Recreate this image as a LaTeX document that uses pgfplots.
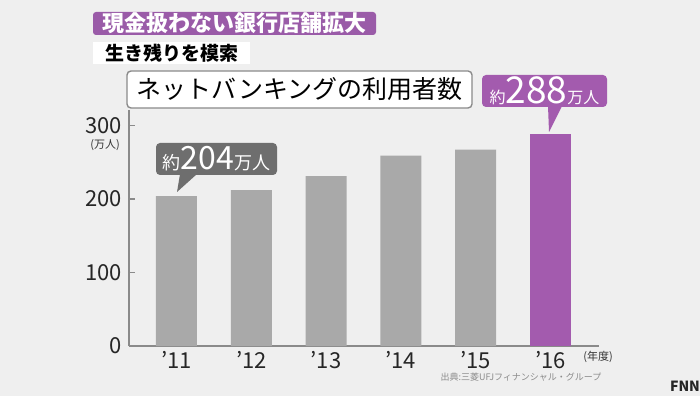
\documentclass[border=0pt]{standalone}
\usepackage{pgfplots}
\pgfplotsset{compat=1.18}
\usepackage{fontspec}
\setmainfont{Noto Sans CJK JP}
\definecolor{bg}{HTML}{EFEFEF}
\definecolor{bargray}{HTML}{A9A9A9}
\definecolor{barpurple}{HTML}{A35BAE}
\definecolor{titlepurple}{HTML}{9A5BA8}
\definecolor{callgray}{HTML}{6E6E6E}
\definecolor{axisgray}{HTML}{8A8A8A}
\begin{document}
\begin{tikzpicture}[x=0.5pt,y=0.5pt]
\fill[bg] (0,0) rectangle (700,396);
\useasboundingbox (0,0) rectangle (700,396);
\begin{axis}[
  at={(64.5pt,25pt)}, anchor=south west,
  scale only axis, width=235pt, height=118pt,
  xmin=-0.635, xmax=5.65, ymin=0, ymax=321,
  axis x line*=bottom, axis y line*=left,
  axis line style={axisgray, line width=1pt, -},
  xtick={0,1,2,3,4,5},
  xticklabels={’11,’12,’13,’14,’15,’16},
  x tick style={draw=none},
  ytick={0,100,200,300},
  y tick style={axisgray, line width=0.6pt},
  major tick length=3pt, tick align=inside,
  /pgf/number format/assume math mode=true,
  tick label style={font=\fontsize{11pt}{12pt}\selectfont, text=black!85},
  xticklabel style={yshift=1pt},
  clip=false,
]
\addplot[ybar, bar width=20.5pt, fill=bargray, draw=none] coordinates {(0,204) (1,212) (2,231) (3,259) (4,267)};
\addplot[ybar, bar width=20.5pt, fill=barpurple, draw=none] coordinates {(5,288)};
\end{axis}
% titles
\node[fill=titlepurple, rounded corners=1.5pt, minimum width=141.5pt, minimum height=11.5pt, inner sep=0pt, text=white, font=\fontsize{11pt}{12pt}\selectfont\bfseries] at (234.5,372.5) {現金扱わない銀行店舗拡大};
\node[fill=white, minimum width=78.5pt, minimum height=11pt, inner sep=0pt, text=black, font=\fontsize{9.5pt}{10pt}\selectfont\bfseries] at (171.5,343) {生き残りを模索};
\node[fill=white, draw=axisgray, line width=0.7pt, rounded corners=2pt, minimum width=172.5pt, minimum height=18.5pt, inner sep=0pt, text=black, font=\fontsize{12.5pt}{13pt}\selectfont] at (299.5,306.5) {ネットバンキングの利用者数};
% callouts
\fill[callgray] (180,222) -- (197,222) -- (177,204) -- cycle;
\node[fill=callgray, rounded corners=2pt, minimum width=60.5pt, minimum height=16pt, inner sep=0pt, text=white] at (216.5,237) {\fontsize{9pt}{10pt}\selectfont 約\fontsize{16pt}{17pt}\selectfont 204\fontsize{9pt}{10pt}\selectfont 万人};
\fill[barpurple] (548,290) -- (562,290) -- (549,264) -- cycle;
\node[fill=barpurple, rounded corners=2pt, minimum width=62.5pt, minimum height=16pt, inner sep=0pt, text=white] at (544.5,305) {\fontsize{8pt}{9pt}\selectfont 約\fontsize{18.5pt}{19pt}\selectfont 288\fontsize{8pt}{9pt}\selectfont 万人};
% small labels
\node[font=\fontsize{5.5pt}{6pt}\selectfont, text=black!80] at (105,251) {(万人)};
\node[font=\fontsize{5.5pt}{6pt}\selectfont, text=black!80] at (598,39) {(年度)};
\node[font=\fontsize{4.5pt}{5pt}\selectfont, text=black!45] at (521,19) {出典:三菱UFJフィナンシャル・グループ};
\node[font=\fontsize{7pt}{8pt}\selectfont\bfseries, text=black!85] at (685,10) {FNN};
\end{tikzpicture}
\end{document}
